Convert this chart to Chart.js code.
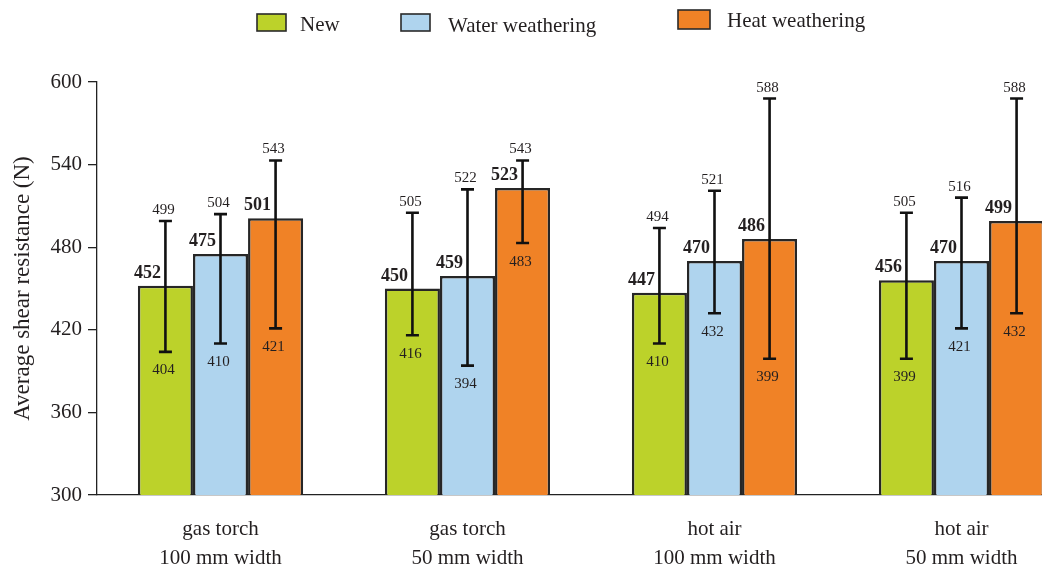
<!DOCTYPE html>
<html>
<head>
<meta charset="utf-8">
<script src="https://cdn.jsdelivr.net/npm/chart.js@4/dist/chart.umd.min.js"></script>
<style>
  html, body { margin: 0; padding: 0; background: #fff; overflow: hidden; }
  #wrap { width: 1042px; height: 565px; overflow: hidden; position: relative; }
  canvas { display: block; }
</style>
</head>
<body>
<div id="wrap"><canvas id="chart" width="1090" height="565"></canvas></div>
<script>
// Categories (two-line axis labels)
const categories = [
  ['gas torch', '100 mm width'],
  ['gas torch', '50 mm width'],
  ['hot air', '100 mm width'],
  ['hot air', '50 mm width']
];
const seriesNames = ['New', 'Water weathering', 'Heat weathering'];

// Mean shear resistance (N) with lower / upper limits
const newMean   = [452, 450, 447, 456];
const newLow    = [404, 416, 410, 399];
const newHigh   = [499, 505, 494, 505];

const waterMean = [475, 459, 470, 470];
const waterLow  = [410, 394, 432, 421];
const waterHigh = [504, 522, 521, 516];

const heatMean  = [501, 523, 486, 499];
const heatLow   = [421, 483, 399, 432];
const heatHigh  = [543, 543, 588, 588];

const yTicks = [300, 360, 420, 480, 540, 600];

const colors = ['#bcd22a', '#afd4ee', '#f08226'];
const SERIF = "'Liberation Serif', 'Times New Roman', serif";
const INK = '#231f20';

const means = [newMean, waterMean, heatMean];
const lows  = [newLow, waterLow, heatLow];
const highs = [newHigh, waterHigh, heatHigh];

// Error bars plus the value labels around each bar
const errorBarPlugin = {
  id: 'errorBars',
  afterDatasetsDraw(chart) {
    const ctx = chart.ctx;
    const y = chart.scales.y;
    ctx.save();
    chart.data.datasets.forEach((ds, di) => {
      const meta = chart.getDatasetMeta(di);
      meta.data.forEach((bar, i) => {
        const x = bar.x;
        const yHi = y.getPixelForValue(ds.high[i]);
        const yLo = y.getPixelForValue(ds.low[i]);
        ctx.strokeStyle = '#111';
        ctx.lineWidth = 2.6;
        ctx.beginPath();
        ctx.moveTo(x, yHi); ctx.lineTo(x, yLo);
        ctx.moveTo(x - 6.5, yHi); ctx.lineTo(x + 6.5, yHi);
        ctx.moveTo(x - 6.5, yLo); ctx.lineTo(x + 6.5, yLo);
        ctx.stroke();

        ctx.fillStyle = INK;
        // upper limit
        ctx.font = '15px ' + SERIF;
        ctx.textAlign = 'center';
        ctx.textBaseline = 'alphabetic';
        ctx.fillText(String(ds.high[i]), x - 2, yHi - 7);
        // lower limit
        ctx.textBaseline = 'top';
        ctx.fillText(String(ds.low[i]), x - 2, yLo + 11);
        // mean
        ctx.font = 'bold 18px ' + SERIF;
        ctx.textAlign = 'left';
        ctx.textBaseline = 'alphabetic';
        ctx.fillText(String(ds.data[i]), x - bar.width / 2 - 4, bar.y - 8);
      });
    });
    ctx.restore();
  }
};

// Legend laid out across the top
const legendPlugin = {
  id: 'topLegend',
  afterDraw(chart) {
    const ctx = chart.ctx;
    const items = [
      { box: [257, 14, 29, 17], tx: 300, ty: 31 },
      { box: [401, 14, 29, 17], tx: 448, ty: 32 },
      { box: [678, 10, 32, 19], tx: 727, ty: 27 }
    ];
    ctx.save();
    chart.data.datasets.forEach((ds, i) => {
      const it = items[i];
      ctx.fillStyle = ds.backgroundColor;
      ctx.fillRect(it.box[0], it.box[1], it.box[2], it.box[3]);
      ctx.strokeStyle = '#2a2a2a';
      ctx.lineWidth = 1.6;
      ctx.strokeRect(it.box[0], it.box[1], it.box[2], it.box[3]);
      ctx.fillStyle = INK;
      ctx.font = '21px ' + SERIF;
      ctx.textAlign = 'left';
      ctx.textBaseline = 'alphabetic';
      ctx.fillText(ds.label, it.tx, it.ty);
    });
    ctx.restore();
  }
};

const datasets = seriesNames.map((name, k) => ({
  label: name,
  data: means[k],
  low: lows[k],
  high: highs[k],
  backgroundColor: colors[k],
  borderColor: '#262626',
  borderWidth: 2.5,
  borderSkipped: false,
  barPercentage: 1,
  categoryPercentage: 0.669
}));

new Chart(document.getElementById('chart'), {
  type: 'bar',
  data: { labels: categories, datasets },
  options: {
    responsive: false,
    animation: false,
    layout: { padding: { left: 0, top: 82, right: 5, bottom: 0 } },
    plugins: {
      legend: { display: false },
      tooltip: { enabled: false }
    },
    scales: {
      x: {
        grid: { display: true, drawOnChartArea: false, drawTicks: false },
        border: { display: true, color: '#222', width: 1.3 },
        ticks: {
          color: INK,
          padding: 20,
          maxRotation: 0,
          autoSkip: false,
          font: { family: SERIF, size: 21, lineHeight: 1.38 }
        },
        afterFit(scale) { scale.height = 70; }
      },
      y: {
        min: 300,
        max: 600,
        afterBuildTicks(scale) { scale.ticks = yTicks.map(v => ({ value: v })); },
        grid: { drawOnChartArea: false, drawTicks: true, tickLength: 9, color: '#222', lineWidth: 1.3 },
        border: { display: true, color: '#222', width: 1.3 },
        ticks: {
          color: INK,
          padding: 6,
          font: { family: SERIF, size: 21 }
        },
        title: {
          display: true,
          text: 'Average shear resistance (N)',
          color: INK,
          font: { family: SERIF, size: 23 },
          padding: { top: 9, bottom: 0 }
        },
        afterFit(scale) { scale.width = 97; }
      }
    }
  },
  plugins: [errorBarPlugin, legendPlugin]
});
</script>
</body>
</html>
